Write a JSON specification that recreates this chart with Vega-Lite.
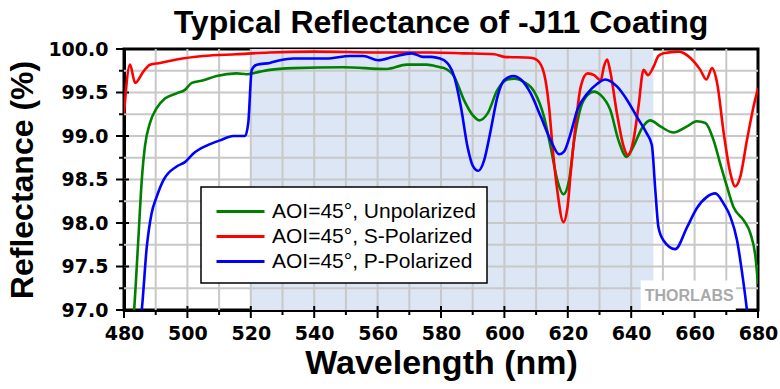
{
  "$schema": "https://vega.github.io/schema/vega-lite/v6.json",
  "width": 634,
  "height": 261,
  "autosize": {"type": "none"},
  "padding": {"left": 124, "top": 49, "right": 22, "bottom": 79},
  "background": "white",
  "config": {
    "view": {"stroke": "black", "strokeWidth": 3},
    "font": "Liberation Sans",
    "axis": {
      "titleFontWeight": "bold",
      "titleFont": "Liberation Sans",
      "titleColor": "black",
      "labelFontSize": 19,
      "labelFontWeight": "bold",
      "labelFont": "DejaVu Sans",
      "labelColor": "black",
      "labelFlush": false,
      "labelOverlap": false,
      "domainColor": "black",
      "domainWidth": 3,
      "ticks": false,
      "grid": false
    },
    "axisX": {"titleFontSize": 34, "titlePadding": 3, "labelPadding": 14},
    "axisY": {"titleFontSize": 32, "titlePadding": 8, "labelPadding": 16}
  },
  "title": {
    "text": "Typical Reflectance of -J11 Coating",
    "fontSize": 32,
    "fontWeight": "bold",
    "font": "Liberation Sans",
    "color": "black",
    "anchor": "middle",
    "offset": 0
  },
  "datasets": {
    "band": [{"a": 520, "b": 647, "lo": 97, "hi": 100}],
    "gridx": [{"v": 490}, {"v": 500}, {"v": 510}, {"v": 520}, {"v": 530}, {"v": 540}, {"v": 550}, {"v": 560}, {"v": 570}, {"v": 580}, {"v": 590}, {"v": 600}, {"v": 610}, {"v": 620}, {"v": 630}, {"v": 640}, {"v": 650}, {"v": 660}, {"v": 670}],
    "gridy": [{"v": 97.25}, {"v": 97.5}, {"v": 97.75}, {"v": 98}, {"v": 98.25}, {"v": 98.5}, {"v": 98.75}, {"v": 99}, {"v": 99.25}, {"v": 99.5}, {"v": 99.75}],
    "tickxmaj": [{"v": 480}, {"v": 500}, {"v": 520}, {"v": 540}, {"v": 560}, {"v": 580}, {"v": 600}, {"v": 620}, {"v": 640}, {"v": 660}, {"v": 680}],
    "tickxmin": [{"v": 490}, {"v": 510}, {"v": 530}, {"v": 550}, {"v": 570}, {"v": 590}, {"v": 610}, {"v": 630}, {"v": 650}, {"v": 670}],
    "tickymaj": [{"v": 97}, {"v": 97.5}, {"v": 98}, {"v": 98.5}, {"v": 99}, {"v": 99.5}, {"v": 100}],
    "tickymin": [{"v": 97.25}, {"v": 97.75}, {"v": 98.25}, {"v": 98.75}, {"v": 99.25}, {"v": 99.75}],
    "logo": [{"a": 643, "b": 673, "lo": 97.0, "hi": 97.34, "lbl": "THORLABS", "cx": 658.3, "cy": 97.16}],
    "curves": [
      {"s": "AOI=45°, Unpolarized", "w": 483.0, "r": 96.9},
      {"s": "AOI=45°, Unpolarized", "w": 483.2, "r": 97.0},
      {"s": "AOI=45°, Unpolarized", "w": 484.5, "r": 97.8},
      {"s": "AOI=45°, Unpolarized", "w": 485.6, "r": 98.49},
      {"s": "AOI=45°, Unpolarized", "w": 486.6, "r": 98.88},
      {"s": "AOI=45°, Unpolarized", "w": 488.2, "r": 99.15},
      {"s": "AOI=45°, Unpolarized", "w": 490.3, "r": 99.32},
      {"s": "AOI=45°, Unpolarized", "w": 492.9, "r": 99.43},
      {"s": "AOI=45°, Unpolarized", "w": 496.6, "r": 99.49},
      {"s": "AOI=45°, Unpolarized", "w": 499.2, "r": 99.53},
      {"s": "AOI=45°, Unpolarized", "w": 501.4, "r": 99.61},
      {"s": "AOI=45°, Unpolarized", "w": 505.0, "r": 99.64},
      {"s": "AOI=45°, Unpolarized", "w": 509.2, "r": 99.69},
      {"s": "AOI=45°, Unpolarized", "w": 515.5, "r": 99.72},
      {"s": "AOI=45°, Unpolarized", "w": 518.7, "r": 99.71},
      {"s": "AOI=45°, Unpolarized", "w": 522.9, "r": 99.74},
      {"s": "AOI=45°, Unpolarized", "w": 526.0, "r": 99.76},
      {"s": "AOI=45°, Unpolarized", "w": 533.4, "r": 99.78},
      {"s": "AOI=45°, Unpolarized", "w": 549.2, "r": 99.79},
      {"s": "AOI=45°, Unpolarized", "w": 562.9, "r": 99.77},
      {"s": "AOI=45°, Unpolarized", "w": 569.2, "r": 99.82},
      {"s": "AOI=45°, Unpolarized", "w": 575.5, "r": 99.82},
      {"s": "AOI=45°, Unpolarized", "w": 579.7, "r": 99.79},
      {"s": "AOI=45°, Unpolarized", "w": 581.0, "r": 99.78},
      {"s": "AOI=45°, Unpolarized", "w": 584.2, "r": 99.68},
      {"s": "AOI=45°, Unpolarized", "w": 587.3, "r": 99.41},
      {"s": "AOI=45°, Unpolarized", "w": 590.0, "r": 99.24},
      {"s": "AOI=45°, Unpolarized", "w": 592.1, "r": 99.18},
      {"s": "AOI=45°, Unpolarized", "w": 594.7, "r": 99.26},
      {"s": "AOI=45°, Unpolarized", "w": 597.8, "r": 99.53},
      {"s": "AOI=45°, Unpolarized", "w": 601.0, "r": 99.65},
      {"s": "AOI=45°, Unpolarized", "w": 603.1, "r": 99.66},
      {"s": "AOI=45°, Unpolarized", "w": 606.2, "r": 99.62},
      {"s": "AOI=45°, Unpolarized", "w": 609.4, "r": 99.51},
      {"s": "AOI=45°, Unpolarized", "w": 612.5, "r": 99.22},
      {"s": "AOI=45°, Unpolarized", "w": 614.6, "r": 98.87},
      {"s": "AOI=45°, Unpolarized", "w": 616.7, "r": 98.49},
      {"s": "AOI=45°, Unpolarized", "w": 618.6, "r": 98.33},
      {"s": "AOI=45°, Unpolarized", "w": 620.4, "r": 98.49},
      {"s": "AOI=45°, Unpolarized", "w": 622.0, "r": 98.95},
      {"s": "AOI=45°, Unpolarized", "w": 624.1, "r": 99.33},
      {"s": "AOI=45°, Unpolarized", "w": 626.2, "r": 99.47},
      {"s": "AOI=45°, Unpolarized", "w": 628.3, "r": 99.51},
      {"s": "AOI=45°, Unpolarized", "w": 630.4, "r": 99.47},
      {"s": "AOI=45°, Unpolarized", "w": 633.4, "r": 99.3},
      {"s": "AOI=45°, Unpolarized", "w": 636.0, "r": 98.95},
      {"s": "AOI=45°, Unpolarized", "w": 638.6, "r": 98.76},
      {"s": "AOI=45°, Unpolarized", "w": 640.7, "r": 98.88},
      {"s": "AOI=45°, Unpolarized", "w": 643.4, "r": 99.09},
      {"s": "AOI=45°, Unpolarized", "w": 646.0, "r": 99.18},
      {"s": "AOI=45°, Unpolarized", "w": 649.2, "r": 99.11},
      {"s": "AOI=45°, Unpolarized", "w": 653.4, "r": 99.04},
      {"s": "AOI=45°, Unpolarized", "w": 657.6, "r": 99.11},
      {"s": "AOI=45°, Unpolarized", "w": 660.7, "r": 99.17},
      {"s": "AOI=45°, Unpolarized", "w": 663.4, "r": 99.15},
      {"s": "AOI=45°, Unpolarized", "w": 666.0, "r": 98.95},
      {"s": "AOI=45°, Unpolarized", "w": 668.1, "r": 98.68},
      {"s": "AOI=45°, Unpolarized", "w": 670.2, "r": 98.42},
      {"s": "AOI=45°, Unpolarized", "w": 672.3, "r": 98.18},
      {"s": "AOI=45°, Unpolarized", "w": 675.5, "r": 98.03},
      {"s": "AOI=45°, Unpolarized", "w": 677.6, "r": 97.88},
      {"s": "AOI=45°, Unpolarized", "w": 679.2, "r": 97.61},
      {"s": "AOI=45°, Unpolarized", "w": 680.0, "r": 97.3},

      {"s": "AOI=45°, S-Polarized", "w": 480.0, "r": 99.26},
      {"s": "AOI=45°, S-Polarized", "w": 481.9, "r": 99.82},
      {"s": "AOI=45°, S-Polarized", "w": 483.5, "r": 99.61},
      {"s": "AOI=45°, S-Polarized", "w": 486.1, "r": 99.74},
      {"s": "AOI=45°, S-Polarized", "w": 488.2, "r": 99.82},
      {"s": "AOI=45°, S-Polarized", "w": 491.4, "r": 99.84},
      {"s": "AOI=45°, S-Polarized", "w": 496.6, "r": 99.88},
      {"s": "AOI=45°, S-Polarized", "w": 505.0, "r": 99.92},
      {"s": "AOI=45°, S-Polarized", "w": 515.5, "r": 99.94},
      {"s": "AOI=45°, S-Polarized", "w": 526.0, "r": 99.96},
      {"s": "AOI=45°, S-Polarized", "w": 540.0, "r": 99.97},
      {"s": "AOI=45°, S-Polarized", "w": 560.0, "r": 99.96},
      {"s": "AOI=45°, S-Polarized", "w": 576.9, "r": 99.96},
      {"s": "AOI=45°, S-Polarized", "w": 587.3, "r": 99.95},
      {"s": "AOI=45°, S-Polarized", "w": 596.8, "r": 99.94},
      {"s": "AOI=45°, S-Polarized", "w": 599.9, "r": 99.91},
      {"s": "AOI=45°, S-Polarized", "w": 608.3, "r": 99.9},
      {"s": "AOI=45°, S-Polarized", "w": 610.4, "r": 99.87},
      {"s": "AOI=45°, S-Polarized", "w": 612.5, "r": 99.72},
      {"s": "AOI=45°, S-Polarized", "w": 614.1, "r": 99.33},
      {"s": "AOI=45°, S-Polarized", "w": 615.2, "r": 98.87},
      {"s": "AOI=45°, S-Polarized", "w": 616.7, "r": 98.37},
      {"s": "AOI=45°, S-Polarized", "w": 618.6, "r": 98.01},
      {"s": "AOI=45°, S-Polarized", "w": 619.9, "r": 98.18},
      {"s": "AOI=45°, S-Polarized", "w": 620.9, "r": 98.57},
      {"s": "AOI=45°, S-Polarized", "w": 622.5, "r": 99.14},
      {"s": "AOI=45°, S-Polarized", "w": 624.1, "r": 99.57},
      {"s": "AOI=45°, S-Polarized", "w": 626.2, "r": 99.72},
      {"s": "AOI=45°, S-Polarized", "w": 628.3, "r": 99.7},
      {"s": "AOI=45°, S-Polarized", "w": 630.4, "r": 99.64},
      {"s": "AOI=45°, S-Polarized", "w": 631.4, "r": 99.8},
      {"s": "AOI=45°, S-Polarized", "w": 632.4, "r": 99.88},
      {"s": "AOI=45°, S-Polarized", "w": 633.4, "r": 99.74},
      {"s": "AOI=45°, S-Polarized", "w": 635.5, "r": 99.26},
      {"s": "AOI=45°, S-Polarized", "w": 637.6, "r": 98.88},
      {"s": "AOI=45°, S-Polarized", "w": 638.9, "r": 98.78},
      {"s": "AOI=45°, S-Polarized", "w": 640.7, "r": 98.95},
      {"s": "AOI=45°, S-Polarized", "w": 642.3, "r": 99.34},
      {"s": "AOI=45°, S-Polarized", "w": 643.9, "r": 99.76},
      {"s": "AOI=45°, S-Polarized", "w": 645.3, "r": 99.7},
      {"s": "AOI=45°, S-Polarized", "w": 647.1, "r": 99.8},
      {"s": "AOI=45°, S-Polarized", "w": 648.6, "r": 99.92},
      {"s": "AOI=45°, S-Polarized", "w": 650.2, "r": 99.95},
      {"s": "AOI=45°, S-Polarized", "w": 654.9, "r": 99.97},
      {"s": "AOI=45°, S-Polarized", "w": 658.6, "r": 99.9},
      {"s": "AOI=45°, S-Polarized", "w": 661.8, "r": 99.76},
      {"s": "AOI=45°, S-Polarized", "w": 663.7, "r": 99.65},
      {"s": "AOI=45°, S-Polarized", "w": 665.5, "r": 99.78},
      {"s": "AOI=45°, S-Polarized", "w": 667.1, "r": 99.61},
      {"s": "AOI=45°, S-Polarized", "w": 669.2, "r": 99.03},
      {"s": "AOI=45°, S-Polarized", "w": 671.3, "r": 98.57},
      {"s": "AOI=45°, S-Polarized", "w": 672.8, "r": 98.42},
      {"s": "AOI=45°, S-Polarized", "w": 674.4, "r": 98.53},
      {"s": "AOI=45°, S-Polarized", "w": 676.5, "r": 98.95},
      {"s": "AOI=45°, S-Polarized", "w": 678.6, "r": 99.34},
      {"s": "AOI=45°, S-Polarized", "w": 680.0, "r": 99.55},

      {"s": "AOI=45°, P-Polarized", "w": 485.3, "r": 96.9},
      {"s": "AOI=45°, P-Polarized", "w": 485.6, "r": 97.0},
      {"s": "AOI=45°, P-Polarized", "w": 487.2, "r": 97.73},
      {"s": "AOI=45°, P-Polarized", "w": 488.7, "r": 98.11},
      {"s": "AOI=45°, P-Polarized", "w": 490.3, "r": 98.3},
      {"s": "AOI=45°, P-Polarized", "w": 492.4, "r": 98.49},
      {"s": "AOI=45°, P-Polarized", "w": 496.6, "r": 98.65},
      {"s": "AOI=45°, P-Polarized", "w": 499.2, "r": 98.7},
      {"s": "AOI=45°, P-Polarized", "w": 501.9, "r": 98.8},
      {"s": "AOI=45°, P-Polarized", "w": 506.1, "r": 98.89},
      {"s": "AOI=45°, P-Polarized", "w": 510.3, "r": 98.95},
      {"s": "AOI=45°, P-Polarized", "w": 514.5, "r": 99.0},
      {"s": "AOI=45°, P-Polarized", "w": 518.2, "r": 99.0},
      {"s": "AOI=45°, P-Polarized", "w": 519.2, "r": 99.15},
      {"s": "AOI=45°, P-Polarized", "w": 520.3, "r": 99.76},
      {"s": "AOI=45°, P-Polarized", "w": 521.9, "r": 99.82},
      {"s": "AOI=45°, P-Polarized", "w": 526.0, "r": 99.84},
      {"s": "AOI=45°, P-Polarized", "w": 529.2, "r": 99.87},
      {"s": "AOI=45°, P-Polarized", "w": 533.4, "r": 99.89},
      {"s": "AOI=45°, P-Polarized", "w": 543.9, "r": 99.89},
      {"s": "AOI=45°, P-Polarized", "w": 551.3, "r": 99.92},
      {"s": "AOI=45°, P-Polarized", "w": 555.5, "r": 99.92},
      {"s": "AOI=45°, P-Polarized", "w": 560.2, "r": 99.87},
      {"s": "AOI=45°, P-Polarized", "w": 565.0, "r": 99.91},
      {"s": "AOI=45°, P-Polarized", "w": 570.8, "r": 99.95},
      {"s": "AOI=45°, P-Polarized", "w": 574.4, "r": 99.91},
      {"s": "AOI=45°, P-Polarized", "w": 576.9, "r": 99.91},
      {"s": "AOI=45°, P-Polarized", "w": 579.7, "r": 99.89},
      {"s": "AOI=45°, P-Polarized", "w": 581.0, "r": 99.87},
      {"s": "AOI=45°, P-Polarized", "w": 584.2, "r": 99.68},
      {"s": "AOI=45°, P-Polarized", "w": 586.3, "r": 99.33},
      {"s": "AOI=45°, P-Polarized", "w": 588.4, "r": 98.87},
      {"s": "AOI=45°, P-Polarized", "w": 590.0, "r": 98.66},
      {"s": "AOI=45°, P-Polarized", "w": 591.8, "r": 98.6},
      {"s": "AOI=45°, P-Polarized", "w": 593.6, "r": 98.72},
      {"s": "AOI=45°, P-Polarized", "w": 595.7, "r": 99.07},
      {"s": "AOI=45°, P-Polarized", "w": 597.8, "r": 99.45},
      {"s": "AOI=45°, P-Polarized", "w": 599.9, "r": 99.64},
      {"s": "AOI=45°, P-Polarized", "w": 602.9, "r": 99.69},
      {"s": "AOI=45°, P-Polarized", "w": 605.2, "r": 99.65},
      {"s": "AOI=45°, P-Polarized", "w": 608.3, "r": 99.49},
      {"s": "AOI=45°, P-Polarized", "w": 611.5, "r": 99.22},
      {"s": "AOI=45°, P-Polarized", "w": 614.6, "r": 98.95},
      {"s": "AOI=45°, P-Polarized", "w": 617.3, "r": 98.79},
      {"s": "AOI=45°, P-Polarized", "w": 618.8, "r": 98.82},
      {"s": "AOI=45°, P-Polarized", "w": 620.9, "r": 99.03},
      {"s": "AOI=45°, P-Polarized", "w": 623.0, "r": 99.3},
      {"s": "AOI=45°, P-Polarized", "w": 626.2, "r": 99.49},
      {"s": "AOI=45°, P-Polarized", "w": 629.3, "r": 99.6},
      {"s": "AOI=45°, P-Polarized", "w": 631.8, "r": 99.65},
      {"s": "AOI=45°, P-Polarized", "w": 635.5, "r": 99.57},
      {"s": "AOI=45°, P-Polarized", "w": 638.6, "r": 99.42},
      {"s": "AOI=45°, P-Polarized", "w": 641.8, "r": 99.22},
      {"s": "AOI=45°, P-Polarized", "w": 644.9, "r": 99.03},
      {"s": "AOI=45°, P-Polarized", "w": 646.5, "r": 98.9},
      {"s": "AOI=45°, P-Polarized", "w": 647.6, "r": 98.38},
      {"s": "AOI=45°, P-Polarized", "w": 648.6, "r": 97.95},
      {"s": "AOI=45°, P-Polarized", "w": 650.2, "r": 97.8},
      {"s": "AOI=45°, P-Polarized", "w": 653.9, "r": 97.7},
      {"s": "AOI=45°, P-Polarized", "w": 657.6, "r": 97.95},
      {"s": "AOI=45°, P-Polarized", "w": 660.7, "r": 98.17},
      {"s": "AOI=45°, P-Polarized", "w": 663.9, "r": 98.3},
      {"s": "AOI=45°, P-Polarized", "w": 666.5, "r": 98.34},
      {"s": "AOI=45°, P-Polarized", "w": 669.2, "r": 98.22},
      {"s": "AOI=45°, P-Polarized", "w": 671.3, "r": 98.07},
      {"s": "AOI=45°, P-Polarized", "w": 673.4, "r": 97.8},
      {"s": "AOI=45°, P-Polarized", "w": 674.9, "r": 97.45},
      {"s": "AOI=45°, P-Polarized", "w": 676.5, "r": 97.0},
      {"s": "AOI=45°, P-Polarized", "w": 676.8, "r": 96.9}
    ]
  },
  "layer": [
    {
      "data": {"name": "band"},
      "mark": {"type": "rect", "fill": "#dce6f5", "opacity": 1},
      "encoding": {
        "x": {
          "field": "a",
          "type": "quantitative",
          "title": "Wavelength (nm)",
          "scale": {"domain": [480, 680], "nice": false, "zero": false},
          "axis": {
            "values": [480, 500, 520, 540, 560, 580, 600, 620, 640, 660, 680]
          }
        },
        "x2": {"field": "b"},
        "y": {
          "field": "lo",
          "type": "quantitative",
          "title": "Reflectance (%)",
          "scale": {"domain": [97, 100], "nice": false, "zero": false},
          "axis": {
            "values": [97, 97.5, 98, 98.5, 99, 99.5, 100],
            "format": ".1f"
          }
        },
        "y2": {"field": "hi"}
      }
    },
    {
      "data": {"name": "gridx"},
      "mark": {"type": "rule", "color": "#c8c8c8", "strokeWidth": 2},
      "encoding": {
        "x": {"field": "v", "type": "quantitative", "title": "Wavelength (nm)"},
        "y": {"datum": 97, "title": "Reflectance (%)"},
        "y2": {"datum": 100}
      }
    },
    {
      "data": {"name": "gridy"},
      "mark": {"type": "rule", "color": "#c8c8c8", "strokeWidth": 2},
      "encoding": {
        "y": {"field": "v", "type": "quantitative", "title": "Reflectance (%)"},
        "x": {"datum": 480, "title": "Wavelength (nm)"},
        "x2": {"datum": 680}
      }
    },
    {
      "data": {"name": "tickxmaj"},
      "mark": {"type": "rule", "color": "black", "strokeWidth": 2, "yOffset": -4, "y2Offset": 8},
      "encoding": {
        "x": {"field": "v", "type": "quantitative", "title": "Wavelength (nm)"},
        "y": {"datum": 97, "title": "Reflectance (%)"},
        "y2": {"datum": 97}
      }
    },
    {
      "data": {"name": "tickxmin"},
      "mark": {"type": "rule", "color": "black", "strokeWidth": 2, "yOffset": 0, "y2Offset": 5},
      "encoding": {
        "x": {"field": "v", "type": "quantitative", "title": "Wavelength (nm)"},
        "y": {"datum": 97, "title": "Reflectance (%)"},
        "y2": {"datum": 97}
      }
    },
    {
      "data": {"name": "tickymaj"},
      "mark": {"type": "rule", "color": "black", "strokeWidth": 2, "xOffset": -8, "x2Offset": 5},
      "encoding": {
        "y": {"field": "v", "type": "quantitative", "title": "Reflectance (%)"},
        "x": {"datum": 480, "title": "Wavelength (nm)"},
        "x2": {"datum": 480}
      }
    },
    {
      "data": {"name": "tickymin"},
      "mark": {"type": "rule", "color": "black", "strokeWidth": 2, "xOffset": -5, "x2Offset": 0},
      "encoding": {
        "y": {"field": "v", "type": "quantitative", "title": "Reflectance (%)"},
        "x": {"datum": 480, "title": "Wavelength (nm)"},
        "x2": {"datum": 480}
      }
    },
    {
      "data": {"name": "logo"},
      "mark": {"type": "rect", "fill": "white"},
      "encoding": {
        "x": {"field": "a", "type": "quantitative", "title": "Wavelength (nm)"},
        "x2": {"field": "b"},
        "y": {"field": "lo", "type": "quantitative", "title": "Reflectance (%)"},
        "y2": {"field": "hi"}
      }
    },
    {
      "data": {"name": "logo"},
      "mark": {"type": "text", "fontSize": 16, "fontWeight": "bold", "font": "Liberation Sans", "color": "#a9a9a9", "align": "center", "baseline": "middle"},
      "encoding": {
        "x": {"field": "cx", "type": "quantitative", "title": "Wavelength (nm)"},
        "y": {"field": "cy", "type": "quantitative", "title": "Reflectance (%)"},
        "text": {"field": "lbl"}
      }
    },
    {
      "data": {"name": "curves"},
      "transform": [{"filter": "datum.s == 'AOI=45°, Unpolarized'"}],
      "mark": {"type": "line", "strokeWidth": 2.6, "clip": true, "interpolate": "monotone"},
      "encoding": {
        "x": {"field": "w", "type": "quantitative", "title": "Wavelength (nm)"},
        "y": {"field": "r", "type": "quantitative", "title": "Reflectance (%)"},
        "color": {"field": "s", "type": "nominal"}
      }
    },
    {
      "data": {"name": "curves"},
      "transform": [{"filter": "datum.s == 'AOI=45°, S-Polarized'"}],
      "mark": {"type": "line", "strokeWidth": 2.6, "clip": true, "interpolate": "monotone"},
      "encoding": {
        "x": {"field": "w", "type": "quantitative", "title": "Wavelength (nm)"},
        "y": {"field": "r", "type": "quantitative", "title": "Reflectance (%)"},
        "color": {"field": "s", "type": "nominal"}
      }
    },
    {
      "data": {"name": "curves"},
      "transform": [{"filter": "datum.s == 'AOI=45°, P-Polarized'"}],
      "mark": {"type": "line", "strokeWidth": 2.6, "clip": true, "interpolate": "monotone"},
      "encoding": {
        "x": {"field": "w", "type": "quantitative", "title": "Wavelength (nm)"},
        "y": {"field": "r", "type": "quantitative", "title": "Reflectance (%)"},
        "color": {
          "field": "s",
          "type": "nominal",
          "scale": {
            "domain": ["AOI=45°, Unpolarized", "AOI=45°, S-Polarized", "AOI=45°, P-Polarized"],
            "range": ["#008000", "#ff0000", "#0000ff"]
          },
          "legend": {
            "title": null,
            "orient": "none",
            "legendX": 77,
            "legendY": 138,
            "symbolType": "M-0.75,0L3.25,0",
            "symbolSize": 576,
            "symbolStrokeWidth": 3,
            "labelFontSize": 21,
            "labelFont": "Liberation Sans",
            "labelColor": "black",
            "labelOffset": 33,
            "labelLimit": 400,
            "rowPadding": 1,
            "padding": 11,
            "strokeColor": "black",
            "fillColor": "white",
            "encode": {"legend": {"update": {"strokeWidth": {"value": 1.5}}}}
          }
        }
      }
    }
  ]
}
